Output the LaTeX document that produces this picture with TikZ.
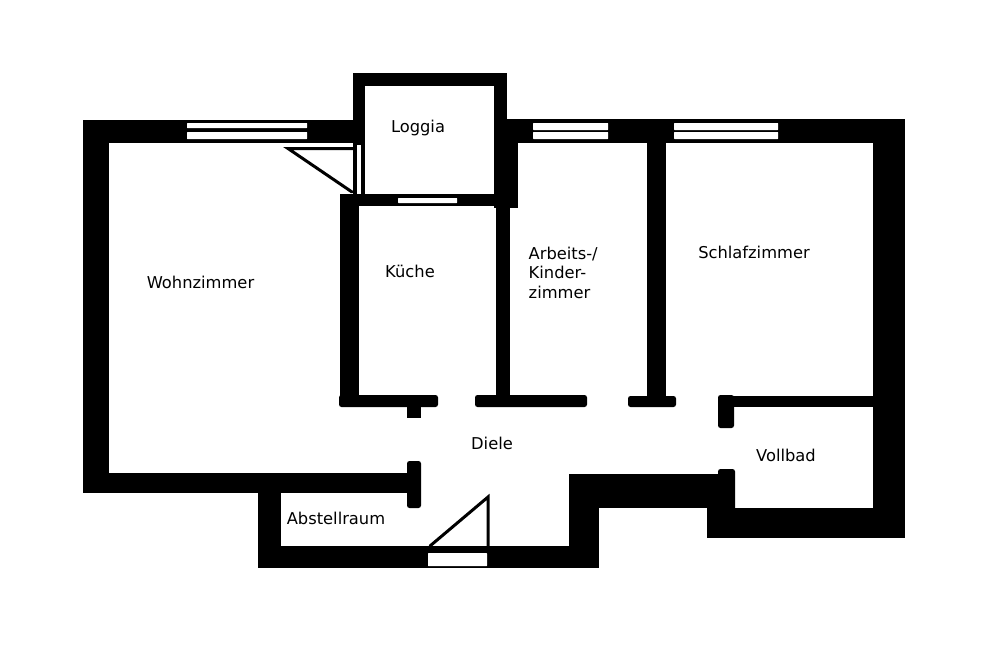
\documentclass[tikz,border=0pt]{standalone}
\usepackage{fontspec}
\setmainfont{DejaVu Sans}
\tikzset{
    wall/.style={fill=black},
    wallend/.style={fill=black, rounded corners=2.5pt},
    glass/.style={fill=white, rounded corners=0.5pt},
    doorline/.style={draw=black, line width=3pt, line cap=round},
    roomname/.style={font=\fontsize{16.3}{19.5}\selectfont, inner sep=0pt, text=black}
}
\begin{document}
\begin{tikzpicture}[x=1pt, y=-1pt]
    \useasboundingbox (0, 0) rectangle (997, 664);

    % Outer walls
    \fill[wall] (83, 120) rectangle (355, 143);
    \fill[wall] (505, 119) rectangle (905, 143);
    \fill[wall] (83, 120) rectangle (109, 493);
    \fill[wall] (873, 119) rectangle (905, 538);
    \fill[wall] (83, 473) rectangle (412, 493);
    \fill[wall] (707, 508) rectangle (905, 538);

    % Loggia
    \fill[wall] (353, 73) rectangle (507, 86);
    \fill[wall] (353, 73) rectangle (365, 145);
    \fill[wall] (353, 140) rectangle (357, 196);
    \fill[wall] (361, 140) rectangle (365, 196);
    \fill[wall] (494, 73) rectangle (507, 145);
    \fill[wall] (340, 194) rectangle (498, 206);
    \fill[wall] (494, 140) rectangle (518, 208);
    \fill[glass] (398, 198) rectangle (457, 203);

    % Kueche
    \fill[wall] (340, 194) rectangle (359, 400);
    \fill[wallend] (339, 395) rectangle (438, 407);
    \fill[wall] (407, 403) rectangle (421, 418);
    \fill[wall] (496, 205) rectangle (510, 400);
    \fill[wallend] (475, 395) rectangle (587, 407);

    % Schlafzimmer
    \fill[wall] (647, 142) rectangle (666, 400);
    \fill[wallend] (628, 396) rectangle (676, 407);

    % Vollbad
    \fill[wall] (725, 396) rectangle (875, 407);
    \fill[wallend] (718, 395) rectangle (734, 428);
    \fill[wallend] (718, 469) rectangle (735, 512);
    \fill[wall] (569, 474) rectangle (730, 508);
    \fill[wall] (569, 474) rectangle (599, 568);

    % Abstellraum
    \fill[wallend] (407, 461) rectangle (421, 508);
    \fill[wall] (258, 490) rectangle (281, 568);
    \fill[wall] (258, 546) rectangle (599, 568);
    \fill[glass] (428, 553) rectangle (487, 566);

    % Windows
    \fill[glass] (187, 123) rectangle (307, 128);
    \fill[glass] (187, 132) rectangle (307, 139);
    \fill[glass] (533, 123) rectangle (608, 130);
    \fill[glass] (533, 132) rectangle (608, 139);
    \fill[glass] (674, 123) rectangle (778, 130);
    \fill[glass] (674, 132) rectangle (778, 139);

    % Doors
    \draw[doorline] (353, 148.5) -- (288, 148.5) -- (352, 192);
    \draw[doorline] (488, 546) -- (488, 497) -- (430, 546);

    % Room names
    \node[roomname] (wohnzimmer) at (200.5, 282.5) {Wohnzimmer};
    \node[roomname] (kueche) at (410, 271.5) {Küche};
    \node[roomname] (loggia) at (418, 128.5) {Loggia};
    \node[roomname, align=left, anchor=west] (arbeitszimmer) at (528.5, 272.5) {Arbeits-/\\Kinder-\\zimmer};
    \node[roomname] (schlafzimmer) at (754, 252.5) {Schlafzimmer};
    \node[roomname] (diele) at (492, 443.5) {Diele};
    \node[roomname] (vollbad) at (786, 455.5) {Vollbad};
    \node[roomname] (abstellraum) at (336, 518.5) {Abstellraum};
\end{tikzpicture}
\end{document}
